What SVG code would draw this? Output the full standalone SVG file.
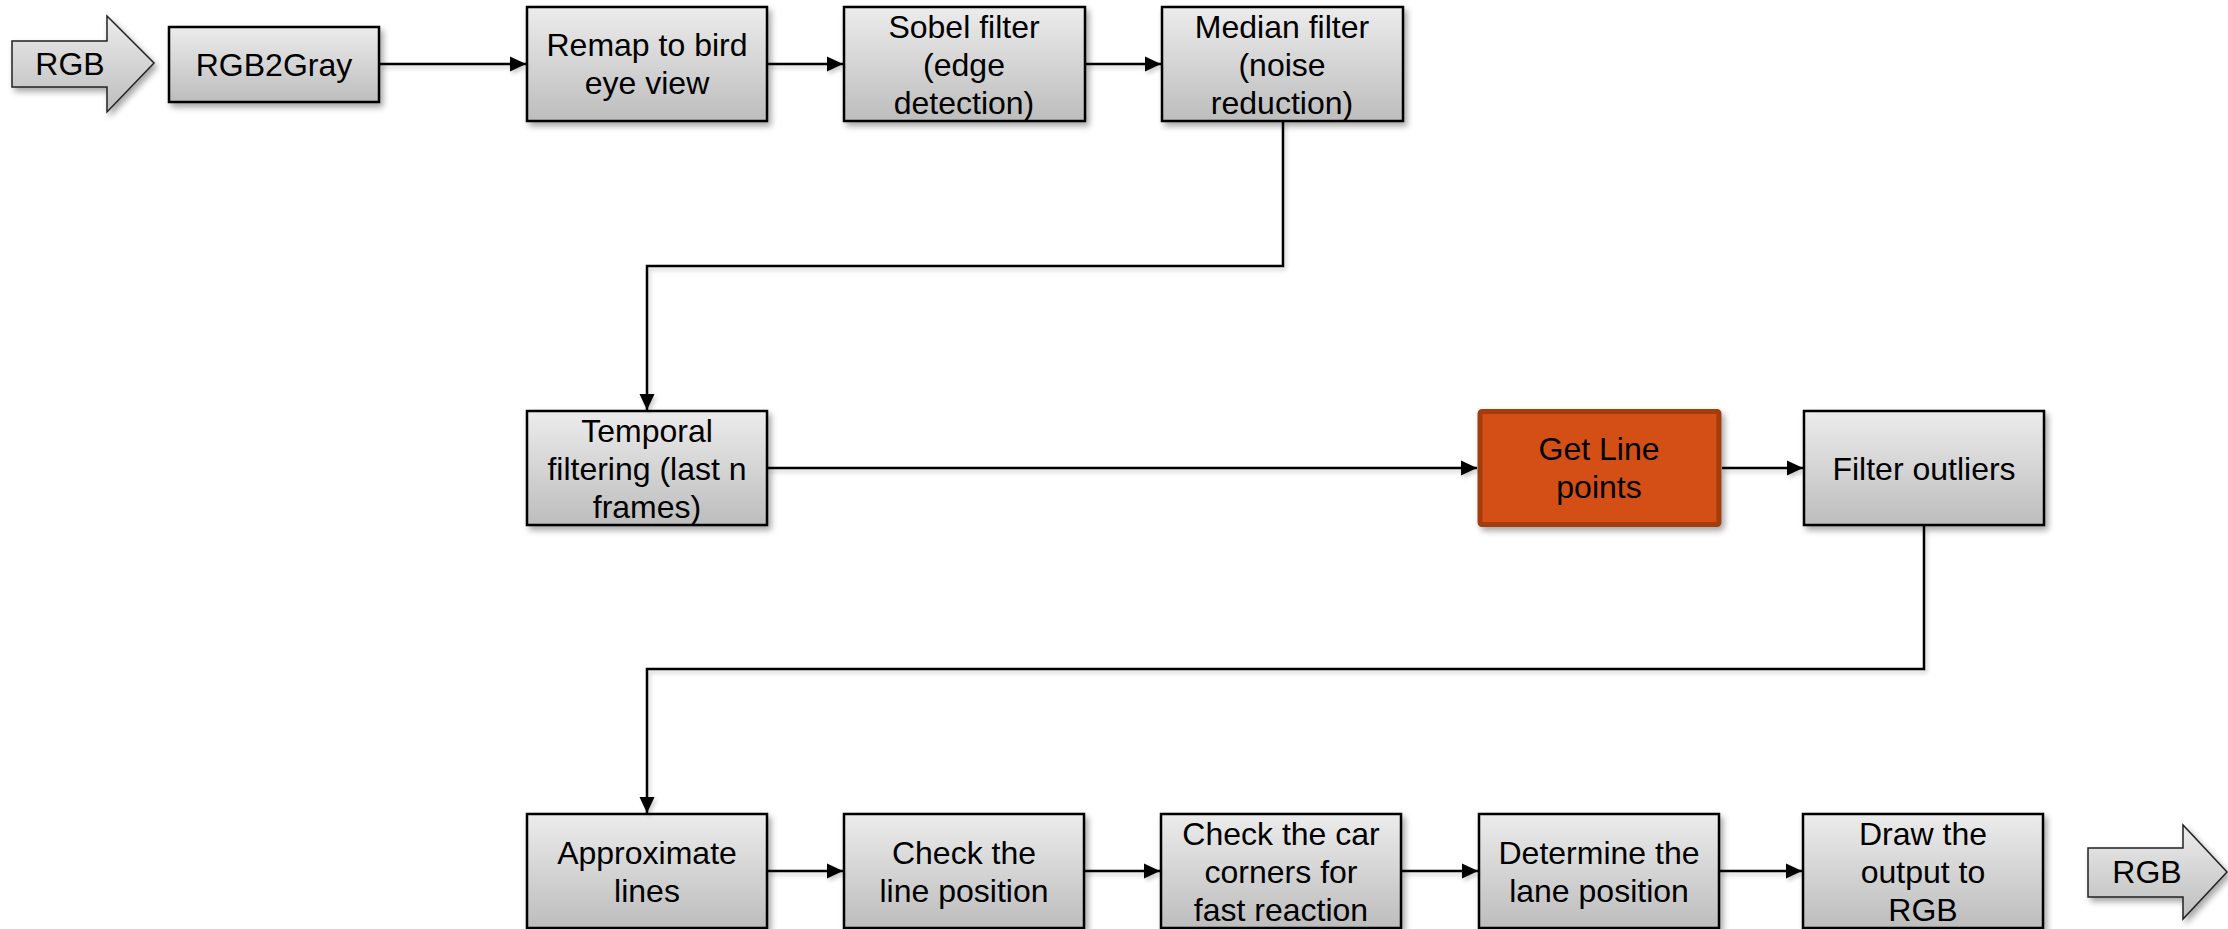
<svg xmlns="http://www.w3.org/2000/svg" width="2228" height="929" viewBox="0 0 2228 929">
  <defs>
    <linearGradient id="gray" x1="0" y1="0" x2="0" y2="1">
      <stop offset="0" stop-color="#ececec"/>
      <stop offset="1" stop-color="#bdbdbd"/>
    </linearGradient>
    <filter id="shadow" x="-10%" y="-10%" width="130%" height="140%">
      <feGaussianBlur in="SourceAlpha" stdDeviation="3"/>
      <feOffset dx="3" dy="4" result="b"/>
      <feComponentTransfer><feFuncA type="linear" slope="0.35"/></feComponentTransfer>
      <feMerge><feMergeNode/><feMergeNode in="SourceGraphic"/></feMerge>
    </filter>
    <filter id="lineShadow" x="-5%" y="-5%" width="110%" height="110%">
      <feGaussianBlur in="SourceAlpha" stdDeviation="2"/>
      <feOffset dx="2" dy="3"/>
      <feComponentTransfer><feFuncA type="linear" slope="0.2"/></feComponentTransfer>
      <feMerge><feMergeNode/><feMergeNode in="SourceGraphic"/></feMerge>
    </filter>
    <marker id="arrow" markerUnits="userSpaceOnUse" markerWidth="16" markerHeight="16" viewBox="0 0 16 16" refX="16" refY="8" orient="auto">
      <path d="M0,0.5 L16,8 L0,15.5 Z" fill="#000"/>
    </marker>
  </defs>
  <style>
    .box { fill: url(#gray); stroke: #000; stroke-width: 2.5; filter: url(#shadow); }
    .hot { fill: #d44f12; stroke: #a33d0e; stroke-width: 5; filter: url(#shadow); }
    .io { fill: url(#gray); stroke: #222; stroke-width: 1.5; filter: url(#shadow); }
    .lbl { font-family: "Liberation Sans", Arial, sans-serif; font-size: 32px; fill: #000; text-anchor: middle; }
    .wire { fill: none; stroke: #000; stroke-width: 2.5; marker-end: url(#arrow); }
  </style>

  <!-- input / output markers -->
  <g id="rgb-in">
    <path class="io" d="M12,41 L107,41 L107,16 L154,63 L107,112 L107,87 L12,87 Z"/>
    <text class="lbl" x="70" y="75">RGB</text>
  </g>
  <g id="rgb-out">
    <path class="io" d="M2088,848 L2183,848 L2183,825 L2227,872 L2183,919 L2183,897 L2088,897 Z"/>
    <text class="lbl" x="2147" y="883">RGB</text>
  </g>

  <!-- top row -->
  <g id="rgb2gray">
    <rect class="box" x="169" y="27" width="210" height="75"/>
    <text class="lbl" x="274" y="76">RGB2Gray</text>
  </g>
  <g id="remap">
    <rect class="box" x="527" y="7" width="240" height="114"/>
    <text class="lbl" x="647" y="56">Remap to bird</text>
    <text class="lbl" x="647" y="94">eye view</text>
  </g>
  <g id="sobel">
    <rect class="box" x="844" y="7" width="241" height="114"/>
    <text class="lbl" x="964" y="38">Sobel filter</text>
    <text class="lbl" x="964" y="76">(edge</text>
    <text class="lbl" x="964" y="114">detection)</text>
  </g>
  <g id="median">
    <rect class="box" x="1162" y="7" width="241" height="114"/>
    <text class="lbl" x="1282" y="38">Median filter</text>
    <text class="lbl" x="1282" y="76">(noise</text>
    <text class="lbl" x="1282" y="114">reduction)</text>
  </g>

  <!-- middle row -->
  <g id="temporal">
    <rect class="box" x="527" y="411" width="240" height="114"/>
    <text class="lbl" x="647" y="442">Temporal</text>
    <text class="lbl" x="647" y="480">filtering (last n</text>
    <text class="lbl" x="647" y="518">frames)</text>
  </g>
  <g id="get-line-points">
    <rect class="hot" x="1480" y="411.5" width="239" height="113" rx="2"/>
    <text class="lbl" x="1599" y="460">Get Line</text>
    <text class="lbl" x="1599" y="498">points</text>
  </g>
  <g id="filter-outliers">
    <rect class="box" x="1804" y="411" width="240" height="114"/>
    <text class="lbl" x="1924" y="480">Filter outliers</text>
  </g>

  <!-- bottom row -->
  <g id="approximate">
    <rect class="box" x="527" y="814" width="240" height="114"/>
    <text class="lbl" x="647" y="864">Approximate</text>
    <text class="lbl" x="647" y="902">lines</text>
  </g>
  <g id="check-line">
    <rect class="box" x="844" y="814" width="240" height="114"/>
    <text class="lbl" x="964" y="864">Check the</text>
    <text class="lbl" x="964" y="902">line position</text>
  </g>
  <g id="check-corners">
    <rect class="box" x="1161" y="814" width="240" height="114"/>
    <text class="lbl" x="1281" y="845">Check the car</text>
    <text class="lbl" x="1281" y="883">corners for</text>
    <text class="lbl" x="1281" y="921">fast reaction</text>
  </g>
  <g id="lane-position">
    <rect class="box" x="1479" y="814" width="240" height="114"/>
    <text class="lbl" x="1599" y="864">Determine the</text>
    <text class="lbl" x="1599" y="902">lane position</text>
  </g>
  <g id="draw-output">
    <rect class="box" x="1803" y="814" width="240" height="114"/>
    <text class="lbl" x="1923" y="845">Draw the</text>
    <text class="lbl" x="1923" y="883">output to</text>
    <text class="lbl" x="1923" y="921">RGB</text>
  </g>

  <!-- connectors -->
  <g id="connectors" filter="url(#lineShadow)">
    <path class="wire" d="M380,64 L526,64"/>
    <path class="wire" d="M768,64 L843,64"/>
    <path class="wire" d="M1086,64 L1161,64"/>
    <path class="wire" d="M1283,122 L1283,266 L647,266 L647,410"/>
    <path class="wire" d="M768,468 L1477,468"/>
    <path class="wire" d="M1722,468 L1803,468"/>
    <path class="wire" d="M1924,526 L1924,669 L647,669 L647,813"/>
    <path class="wire" d="M768,871 L843,871"/>
    <path class="wire" d="M1085,871 L1160,871"/>
    <path class="wire" d="M1402,871 L1478,871"/>
    <path class="wire" d="M1720,871 L1802,871"/>
  </g>
</svg>
